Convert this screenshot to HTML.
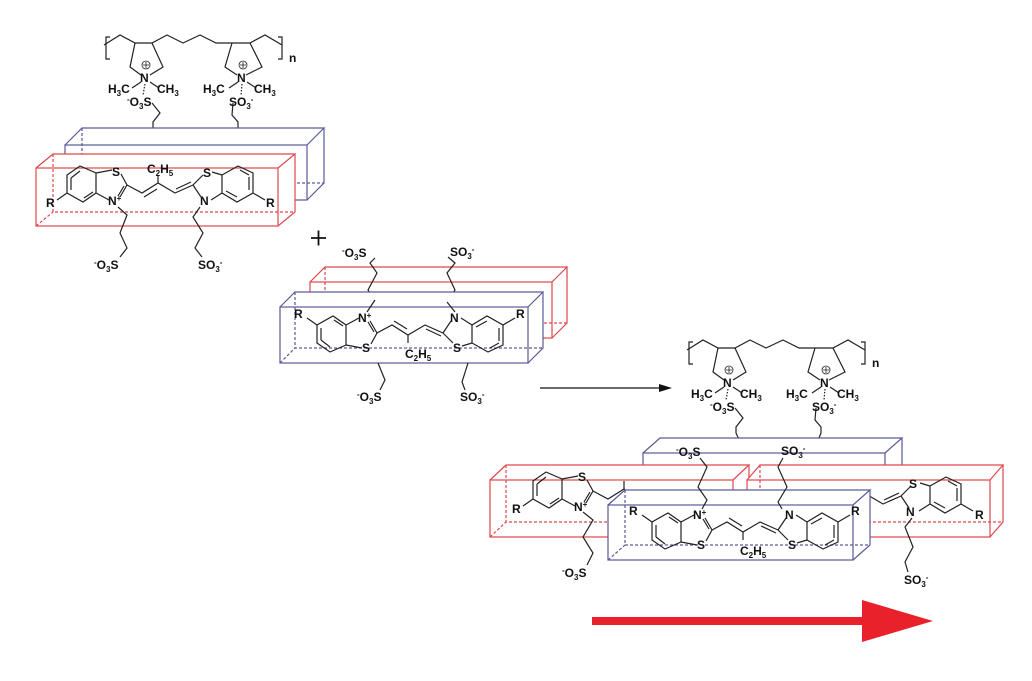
<!DOCTYPE html>
<html><head><meta charset="utf-8"><style>
html,body{margin:0;padding:0;background:#fff}
svg{display:block}
text{font-family:"Liberation Sans",Arial,sans-serif;font-size:12px;font-weight:bold;fill:#111}
.sk{fill:none;stroke:#222;stroke-width:1.2}
.r{stroke:#e0474c;stroke-width:1.2;fill:none}
.b{stroke:#5a5a9a;stroke-width:1.2;fill:none}
.d{stroke-dasharray:3,2}
.w{fill:#fff;stroke:none}
</style></head><body>
<svg width="1032" height="681" viewBox="0 0 1032 681" xmlns="http://www.w3.org/2000/svg">
<defs>
<g id="dye" class="sk">
<path d="M67,175 L80,166 L96,173 L96,193 L83,202 L67,193 Z"/>
<path d="M71,178 L80,171 M71,190 L71,178 M84,198 L93,192"/>
<path d="M96,173 L112,170 M121,174 L127,185 L120,197 M109,200 L96,193 M124,186 L118,196"/>
<path d="M127,185 L142,193 L158,183 L175,193 L193,185 M144,197 L157,189 M176,189 L191,182"/>
<path d="M158,183 L158,175"/>
<path d="M193,185 L203,175 M193,185 L201,197 M212,172 L222,175 M211,200 L222,193"/>
<path d="M222,175 L238,166 L253,173 L253,193 L237,202 L222,193 Z M240,170 L249,175 M249,177 L249,190 M226,191 L237,197"/>
<path d="M67,193 L57,200 M253,193 L265,200"/>
</g>
<g id="poly" class="sk">
<path d="M104,45 L120,35 L135,43 L152,43 L167,35 L183,43 L200,35 L216,43 L232,43 L250,43 L265,35 L282,45"/>
<path d="M135,43 L130,67 L141,75 M150,75 L163,67 L152,43"/>
<path d="M232,43 L225,67 L237,75 M246,75 L262,67 L250,43"/>
<path d="M110,37 h-4 v22 h4 M278,37 h4 v22 h-4"/>
<path d="M141,82 L132,88 M150,82 L159,88 M238,82 L229,88 M247,82 L256,88"/>
<path d="M145,84 L143,95 M242,84 L241,95" stroke-dasharray="1.5,1.5"/>
<circle cx="146" cy="65" r="4" stroke-width="0.8"/><path d="M146,62 v6 M143,65 h6" stroke-width="0.8"/>
<circle cx="243" cy="65" r="4" stroke-width="0.8"/><path d="M243,62 v6 M240,65 h6" stroke-width="0.8"/>
<path d="M152,103 L160,113 L153,122 L153,128 L160,143"/>
<path d="M233,103 L232,115 L238,122 L238,128 L232,143"/>
</g>
<clipPath id="cl"><rect x="0" y="0" width="625" height="681"/></clipPath>
<clipPath id="cr"><rect x="868" y="0" width="200" height="681"/></clipPath>
</defs>

<use href="#poly"/>
<text x="289" y="62" font-size="11">n</text>
<text x="140" y="82">N</text><text x="237" y="82">N</text>
<text x="108" y="93">H<tspan font-size="8" dy="3">3</tspan><tspan dy="-3">C</tspan></text>
<text x="157" y="93">CH<tspan font-size="8" dy="3">3</tspan></text>
<text x="203" y="93">H<tspan font-size="8" dy="3">3</tspan><tspan dy="-3">C</tspan></text>
<text x="254" y="93">CH<tspan font-size="8" dy="3">3</tspan></text>
<text x="127" y="106"><tspan font-size="8" dy="-4">-</tspan><tspan dy="4">O</tspan><tspan font-size="8" dy="3">3</tspan><tspan dy="-3">S</tspan></text>
<text x="229" y="106">SO<tspan font-size="8" dy="3">3</tspan><tspan font-size="8" dy="-7">-</tspan></text>

<polygon class="w" points="65,145 82,128 324,128 324,183 307,200 65,200"/>
<g class="b"><rect x="65" y="145" width="242" height="55"/><path d="M65,145 l17,-17 h242 l-17,17 M324,128 v55 l-17,17"/><path class="d" d="M82,128 v55 h242 M65,200 l17,-17"/></g>
<polygon class="w" points="36,168 53,154 295,154 295,212 278,226 36,226"/>
<g class="r"><rect x="36" y="168" width="242" height="58"/><path d="M36,168 l17,-14 h242 l-17,14 M295,154 v58 l-17,14"/><path class="d" d="M53,154 v58 h242 M36,226 l17,-14"/></g>
<use href="#dye"/>
<text x="112" y="176">S</text><text x="203" y="177">S</text>
<text x="147" y="173">C<tspan font-size="8" dy="3">2</tspan><tspan dy="-3">H</tspan><tspan font-size="8" dy="3">5</tspan></text>
<text x="108" y="205">N<tspan font-size="8" dy="-4">+</tspan></text>
<text x="200" y="205">N</text>
<text x="46" y="207">R</text><text x="266" y="207">R</text>
<path class="sk" d="M118,207 L127,215 L120,233 L127,248 L120,257"/>
<path class="sk" d="M200,207 L193,217 L203,233 L195,248 L202,257"/>
<text x="94" y="269"><tspan font-size="8" dy="-4">-</tspan><tspan dy="4">O</tspan><tspan font-size="8" dy="3">3</tspan><tspan dy="-3">S</tspan></text>
<text x="198" y="269">SO<tspan font-size="8" dy="3">3</tspan><tspan font-size="8" dy="-7">-</tspan></text>

<path d="M311,238 h15 M318.5,230.5 v15" stroke="#111" stroke-width="1.8"/>

<polygon class="w" points="310,282 325,267 567,267 567,323 552,338 310,338"/>
<g class="r"><rect x="310" y="282" width="242" height="56"/><path d="M310,282 l15,-15 h242 l-15,15 M567,267 v56 l-15,15"/><path class="d" d="M325,267 v56 h242 M310,338 l15,-15"/></g>
<path class="sk" d="M375,300 L368,290 L377,273 L370,263 L375,258"/>
<path class="sk" d="M447,302 L455,290 L447,273 L455,263 L448,257"/>
<polygon class="w" points="280,307 295,292 543,292 543,348 528,363 280,363"/>
<g class="b"><rect x="280" y="307" width="248" height="56"/><path d="M280,307 l15,-15 h248 l-15,15 M543,292 v56 l-15,15"/><path class="d" d="M295,292 v56 h248 M280,363 l15,-15"/></g>
<g transform="translate(250,518) scale(1,-1)"><use href="#dye"/></g>
<path class="sk" d="M367,312 L375,300 M447,302 L455,312"/>
<text x="342" y="257"><tspan font-size="8" dy="-4">-</tspan><tspan dy="4">O</tspan><tspan font-size="8" dy="3">3</tspan><tspan dy="-3">S</tspan></text>
<text x="450" y="256">SO<tspan font-size="8" dy="3">3</tspan><tspan font-size="8" dy="-7">-</tspan></text>
<text x="358" y="322">N<tspan font-size="8" dy="-4">+</tspan></text>
<text x="450" y="322">N</text>
<text x="362" y="352">S</text><text x="453" y="352">S</text>
<text x="405" y="358">C<tspan font-size="8" dy="3">2</tspan><tspan dy="-3">H</tspan><tspan font-size="8" dy="3">5</tspan></text>
<text x="294" y="318">R</text><text x="516" y="318">R</text>
<path class="sk" d="M378,363 L385,380 L380,390"/>
<path class="sk" d="M468,363 L462,382 L465,390"/>
<text x="357" y="401"><tspan font-size="8" dy="-4">-</tspan><tspan dy="4">O</tspan><tspan font-size="8" dy="3">3</tspan><tspan dy="-3">S</tspan></text>
<text x="460" y="401">SO<tspan font-size="8" dy="3">3</tspan><tspan font-size="8" dy="-7">-</tspan></text>

<path d="M540,388 H662" stroke="#111" stroke-width="1.2"/>
<polygon points="672,388 659,384 659,392" fill="#111"/>

<g transform="translate(583,305)"><use href="#poly"/></g>
<text x="872" y="367" font-size="11">n</text>
<text x="723" y="387">N</text><text x="820" y="387">N</text>
<text x="691" y="398">H<tspan font-size="8" dy="3">3</tspan><tspan dy="-3">C</tspan></text>
<text x="740" y="398">CH<tspan font-size="8" dy="3">3</tspan></text>
<text x="786" y="398">H<tspan font-size="8" dy="3">3</tspan><tspan dy="-3">C</tspan></text>
<text x="837" y="398">CH<tspan font-size="8" dy="3">3</tspan></text>
<text x="710" y="411"><tspan font-size="8" dy="-4">-</tspan><tspan dy="4">O</tspan><tspan font-size="8" dy="3">3</tspan><tspan dy="-3">S</tspan></text>
<text x="812" y="411">SO<tspan font-size="8" dy="3">3</tspan><tspan font-size="8" dy="-7">-</tspan></text>

<polygon class="w" points="643,453 660,438 902,438 902,493 885,508 643,508"/>
<g class="b"><rect x="643" y="453" width="242" height="55"/><path d="M643,453 l17,-15 h242 l-17,15 M902,438 v55 l-17,15"/></g>
<polygon class="w" points="490,480 506,465 749,465 749,522 733,537 490,537"/>
<g class="r"><rect x="490" y="480" width="243" height="57"/><path d="M490,480 l16,-15 h243 l-16,15 M749,465 v57 l-16,15"/><path class="d" d="M506,465 v57 h243 M490,537 l16,-15"/></g>
<g clip-path="url(#cl)"><g transform="translate(466,306)"><use href="#dye"/></g></g>
<text x="578" y="481">S</text>
<text x="574" y="511">N<tspan font-size="8" dy="-4">+</tspan></text>
<text x="512" y="513">R</text>
<polygon class="w" points="747,480 760,465 1003,465 1003,522 990,537 747,537"/>
<g class="r"><rect x="747" y="480" width="243" height="57"/><path d="M747,480 l13,-15 h243 l-13,15 M1003,465 v57 l-13,15"/><path class="d" d="M760,465 v57 h243 M747,537 l13,-15"/></g>
<g clip-path="url(#cr)"><g transform="translate(708,311)"><use href="#dye"/></g></g>
<text x="909" y="488">S</text>
<text x="906" y="516">N</text>
<text x="975" y="519">R</text>
<polygon class="w" points="608,505 625,490 870,490 870,545 853,560 608,560"/>
<g class="b"><rect x="608" y="505" width="245" height="55"/><path d="M608,505 l17,-15 h245 l-17,15 M870,490 v55 l-17,15"/><path class="d" d="M625,490 v55 h245 M608,560 l17,-15"/></g>
<g transform="translate(585,715) scale(1,-1)"><use href="#dye"/></g>
<text x="693" y="519">N<tspan font-size="8" dy="-4">+</tspan></text>
<text x="785" y="519">N</text>
<text x="697" y="549">S</text><text x="788" y="549">S</text>
<text x="740" y="555">C<tspan font-size="8" dy="3">2</tspan><tspan dy="-3">H</tspan><tspan font-size="8" dy="3">5</tspan></text>
<text x="629" y="515">R</text><text x="851" y="515">R</text>
<path class="sk" d="M702,509 L707,500 L698,487 L707,467 L700,458"/>
<path class="sk" d="M782,509 L778,502 L787,487 L778,467 L783,458"/>
<text x="676" y="456"><tspan font-size="8" dy="-4">-</tspan><tspan dy="4">O</tspan><tspan font-size="8" dy="3">3</tspan><tspan dy="-3">S</tspan></text>
<text x="781" y="455">SO<tspan font-size="8" dy="3">3</tspan><tspan font-size="8" dy="-7">-</tspan></text>
<path class="sk" d="M583,512 L593,520 L583,537 L593,553 L587,565"/>
<text x="562" y="577"><tspan font-size="8" dy="-4">-</tspan><tspan dy="4">O</tspan><tspan font-size="8" dy="3">3</tspan><tspan dy="-3">S</tspan></text>
<path class="sk" d="M912,518 L905,527 L913,547 L905,562 L908,572"/>
<text x="904" y="584">SO<tspan font-size="8" dy="3">3</tspan><tspan font-size="8" dy="-7">-</tspan></text>

<rect x="592" y="617" width="272" height="8" fill="#e8212b"/>
<polygon points="862,600 933,621 862,642" fill="#e8212b"/>
</svg>
</body></html>
